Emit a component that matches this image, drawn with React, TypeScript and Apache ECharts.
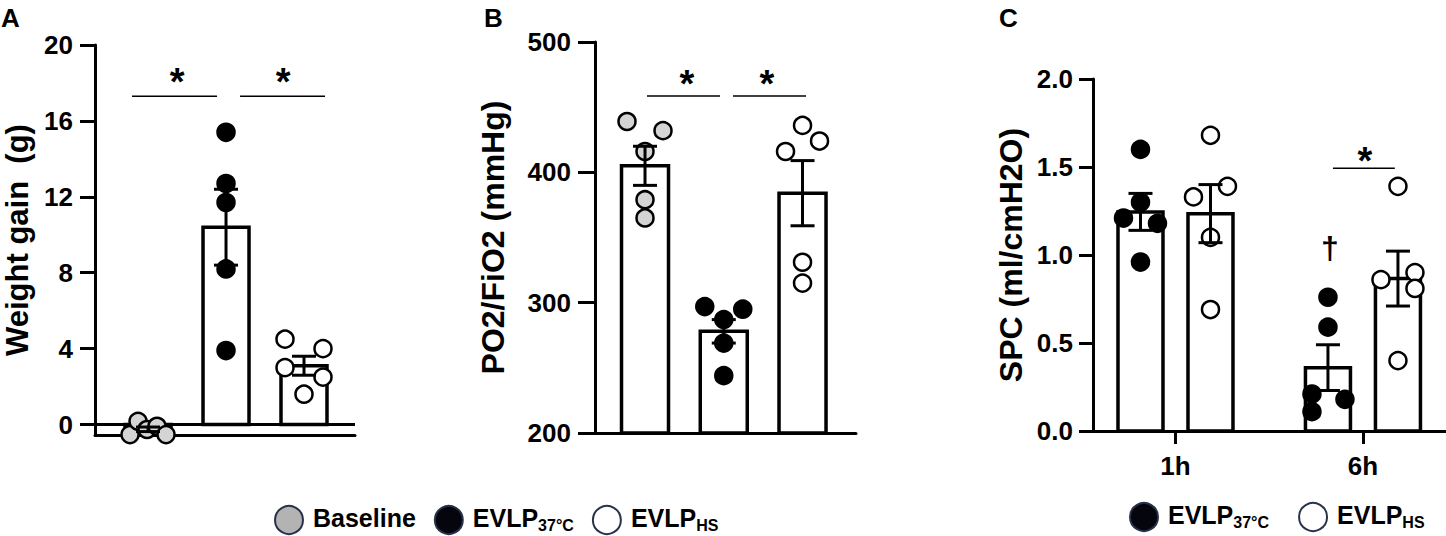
import React, { useEffect, useRef } from 'react';
import * as echarts from 'echarts';

const FONT = '"Liberation Sans", Arial, Helvetica, sans-serif';

// ---------- Panel A: Weight gain (g) ----------
const groupsA = ['Baseline', 'EVLP37°C', 'EVLPHS'];
const weightMean = [-0.25, 10.4, 3.1];
const weightSem = [0.12, 2.0, 0.5];
const weightBaseline = [-0.53, 0.17, -0.26, -0.09, -0.53];
const weight37 = [15.4, 12.7, 11.7, 8.2, 3.9];
const weightHS = [4.5, 4.0, 3.0, 2.5, 1.6];
const weightTicks = [0, 4, 8, 12, 16, 20];

// ---------- Panel B: PO2/FiO2 (mmHg) ----------
const pfMean = [405, 278, 384];
const pfSem = [15, 9, 25];
const pfBaseline = [439, 432, 416, 379, 365];
const pf37 = [297, 295, 287, 269, 244];
const pfHS = [436, 424, 416, 331, 315];

// ---------- Panel C: SPC (ml/cmH2O) ----------
const timeCats = ['1h', '6h'];
const spc37Mean = [1.245, 0.36];
const spc37Sem = [0.105, 0.13];
const spcHSMean = [1.235, 0.866];
const spcHSSem = [0.165, 0.156];
const spc37At1h = [1.6, 1.3, 1.21, 1.18, 0.96];
const spc37At6h = [0.76, 0.59, 0.21, 0.18, 0.11];
const spcHSAt1h = [1.68, 1.39, 1.33, 1.1, 0.69];
const spcHSAt6h = [1.39, 0.9, 0.86, 0.81, 0.4];

// ---------- significance annotations (data units) ----------
const sigLinesA = [[0.795, 1.885, 17.3], [2.18, 3.27, 17.3]];
const sigTextA = [[1.372, 18.05, '*'], [2.731, 18.05, '*']];
const sigLinesB = [[1.025, 1.952, 458.5], [2.117, 3.044, 458.5]];
const sigTextB = [[1.533, 467.8, '*'], [2.549, 467.8, '*']];
const sigLinesC = [[1.84, 2.17, 1.493]];
const sigTextC = [[2.011, 1.535, '*']];
const daggerC = [[1.824, 1.04, '†']];

// ---------- styles (pixel jitter of points, bar offsets) ----------
const jitA = { base: [-18, -10, -1, 9, 18], e37: [0, 0, 0, 0, 0], hs: [-19, 19, -19, 19, 0] };
const jitB = { base: [-18, 18, 0, 0, 0], e37: [-19, 19, 0, 0, 0], hs: [0, 17, -17, 0, 0] };
const jitC = {
  e37h1: [0, 0, -17, 17, 0],
  e37h6: [0, 0, -16, 17, -16],
  hsh1: [0, 17, -17, 0, 0],
  hsh6: [0, 17, -17, 17, 0],
};
const C_OFFSET = 35;
const GRAY = '#d4d4d4';

const lineStyle = { color: '#000', width: 3 };

function scatter(name: string, gi: number, items: any[], fill: string) {
  return {
    name,
    type: 'scatter',
    xAxisIndex: gi,
    yAxisIndex: gi,
    z: 3,
    silent: true,
    clip: false,
    symbol: 'circle',
    symbolSize: 17,
    itemStyle: { color: fill, borderColor: '#000', borderWidth: 2.5, opacity: 1 },
    data: items,
  };
}
function pts(x: number, vals: number[], jit: number[], dx = 0) {
  return vals.map((v, i) => ({ value: [x, v], symbolOffset: [jit[i] + dx, 0] }));
}

function bars(gi: number, xs: number[], means: number[], base: number, barW: number, dx = 0) {
  return {
    type: 'custom',
    xAxisIndex: gi,
    yAxisIndex: gi,
    z: 2,
    silent: true,
    clip: false,
    data: xs.map((x, i) => [x, means[i]]),
    renderItem: (params: any, api: any) => {
      const x = api.value(0);
      const m = api.value(1);
      const top = api.coord([x, m]);
      const bot = api.coord([x, base]);
      const cx = top[0] + dx;
      return {
        type: 'rect',
        shape: { x: cx - barW / 2, y: Math.min(top[1], bot[1]), width: barW, height: Math.abs(bot[1] - top[1]) },
        style: { fill: '#fff', stroke: '#000', lineWidth: 3.5 },
      };
    },
  };
}

function errs(gi: number, xs: number[], means: number[], sems: number[], dx = 0, capW = 24) {
  return {
    type: 'custom',
    xAxisIndex: gi,
    yAxisIndex: gi,
    z: 4,
    silent: true,
    clip: false,
    data: xs.map((x, i) => [x, means[i], sems[i]]),
    renderItem: (params: any, api: any) => {
      const x = api.value(0);
      const m = api.value(1);
      const s = api.value(2);
      const hi = api.coord([x, m + s]);
      const lo = api.coord([x, m - s]);
      const cx = hi[0] + dx;
      const st = { stroke: '#000', lineWidth: 3 };
      return {
        type: 'group',
        children: [
          { type: 'line', shape: { x1: cx, y1: hi[1], x2: cx, y2: lo[1] }, style: st },
          { type: 'line', shape: { x1: cx - capW / 2, y1: hi[1], x2: cx + capW / 2, y2: hi[1] }, style: st },
          { type: 'line', shape: { x1: cx - capW / 2, y1: lo[1], x2: cx + capW / 2, y2: lo[1] }, style: st },
        ],
      };
    },
  };
}

function zeroLine(gi: number) {
  return {
    type: 'custom',
    xAxisIndex: gi,
    yAxisIndex: gi,
    z: 2,
    silent: true,
    clip: false,
    data: [[1, 0]],
    renderItem: (params: any, api: any) => {
      const p = api.coord([api.value(0), api.value(1)]);
      const cs = params.coordSys;
      return {
        type: 'line',
        shape: { x1: cs.x, y1: p[1], x2: cs.x + cs.width, y2: p[1] },
        style: { stroke: '#000', lineWidth: 3 },
      };
    },
  };
}

function sigLines(gi: number, rows: number[][]) {
  return {
    type: 'custom',
    xAxisIndex: gi,
    yAxisIndex: gi,
    z: 5,
    silent: true,
    clip: false,
    data: rows.map((r) => [r[0], r[2], r[1]]),
    renderItem: (params: any, api: any) => {
      const a = api.coord([api.value(0), api.value(1)]);
      const b = api.coord([api.value(2), api.value(1)]);
      return {
        type: 'line',
        shape: { x1: a[0], y1: a[1], x2: b[0], y2: b[1] },
        style: { stroke: '#000', lineWidth: 1.5 },
      };
    },
  };
}

function sigText(gi: number, rows: any[][], size = 30) {
  return {
    type: 'custom',
    xAxisIndex: gi,
    yAxisIndex: gi,
    z: 5,
    silent: true,
    clip: false,
    data: rows.map((r) => [r[0], r[1]]),
    renderItem: (params: any, api: any) => {
      const c = api.coord([api.value(0), api.value(1)]);
      return {
        type: 'text',
        x: c[0],
        y: c[1],
        style: {
          text: rows[params.dataIndex][2],
          fill: '#000',
          font: `bold ${size}px ${FONT}`,
          align: 'center',
          verticalAlign: 'middle',
        },
      };
    },
  };
}

function yAxis(gi: number, min: number, max: number, name: string, nameGap: number, nameSize: number, margin: number, tickLen: number, extra: any) {
  return {
    type: 'value',
    gridIndex: gi,
    min,
    max,
    name,
    nameLocation: 'middle',
    nameRotate: 90,
    nameGap,
    nameTextStyle: { color: '#000', fontSize: nameSize, fontWeight: 'bold', fontFamily: FONT },
    axisLine: { show: true, onZero: false, lineStyle },
    axisTick: { show: true, inside: false, length: tickLen, lineStyle, ...(extra.tickValues ? { customValues: extra.tickValues } : {}) },
    axisLabel: {
      color: '#000',
      fontSize: 26,
      fontWeight: 'bold',
      fontFamily: FONT,
      margin,
      ...(extra.tickValues ? { customValues: extra.tickValues } : {}),
      ...(extra.formatter ? { formatter: extra.formatter } : {}),
    },
    ...(extra.interval ? { interval: extra.interval } : {}),
    splitLine: { show: false },
  };
}

function xAxisPlain(gi: number, min: number, max: number) {
  return {
    type: 'value',
    gridIndex: gi,
    min,
    max,
    axisLine: { show: true, onZero: false, lineStyle },
    axisTick: { show: false },
    axisLabel: { show: false },
    splitLine: { show: false },
  };
}

const legendRich = {
  m: { fontSize: 25, fontWeight: 'bold', fontFamily: FONT, color: '#000', lineHeight: 26, verticalAlign: 'bottom', padding: [0, 0, 3, 0] },
  s: { fontSize: 16, fontWeight: 'bold', fontFamily: FONT, color: '#000', lineHeight: 16, verticalAlign: 'bottom' },
};
const legendFmt = (name: string) =>
  name === 'Baseline' ? '{m|Baseline}' : name === 'EVLP37°C' ? '{m|EVLP}{s|37°C}' : '{m|EVLP}{s|HS}';
const legendItem = (name: string, color: string) => ({
  name,
  icon: 'circle',
  itemStyle: { color, borderColor: '#27324a', borderWidth: 2 },
});

const xsA = groupsA.map((_, i) => i + 1);
const xsC = timeCats.map((_, i) => i + 1);

const option: any = {
  animation: false,
  backgroundColor: '#fff',
  grid: [
    { left: 95, top: 45, width: 260, height: 390, containLabel: false, outerBoundsMode: 'none' },
    { left: 595, top: 42, width: 261, height: 391, containLabel: false, outerBoundsMode: 'none' },
    { left: 1093, top: 79, width: 353, height: 352, containLabel: false, outerBoundsMode: 'none' },
  ],
  xAxis: [
    xAxisPlain(0, 0.32, 3.654),
    xAxisPlain(1, 0.365, 3.679),
    {
      type: 'value',
      gridIndex: 2,
      min: 0.56,
      max: 2.443,
      axisLine: { show: true, onZero: false, lineStyle },
      axisTick: { show: true, inside: false, length: 13, lineStyle, customValues: xsC },
      axisLabel: {
        customValues: xsC,
        formatter: (v: number) => timeCats[Math.round(v) - 1],
        color: '#000',
        fontSize: 26,
        fontWeight: 'bold',
        fontFamily: FONT,
        margin: 22,
      },
      splitLine: { show: false },
    },
  ],
  yAxis: [
    yAxis(0, -0.55, 20, 'Weight gain  (g)', 62, 31, 22, 15, { tickValues: weightTicks }),
    yAxis(1, 200, 500, 'PO2/FiO2 (mmHg)', 86, 32, 24, 17, { interval: 100 }),
    yAxis(2, 0, 2, 'SPC (ml/cmH2O)', 66, 32, 20, 14, { interval: 0.5, formatter: (v: number) => v.toFixed(1) }),
  ],
  legend: [
    {
      left: 274,
      top: 505,
      padding: 0,
      itemWidth: 38,
      itemHeight: 28,
      itemGap: 18,
      selectedMode: false,
      data: [legendItem('Baseline', '#b3b3b3'), legendItem('EVLP37°C', '#05050d'), legendItem('EVLPHS', '#ffffff')],
      formatter: legendFmt,
      textStyle: { rich: legendRich },
    },
    {
      left: 1129,
      top: 502,
      padding: 0,
      itemWidth: 38,
      itemHeight: 28,
      itemGap: 29,
      selectedMode: false,
      data: [legendItem('EVLP37°C', '#05050d'), legendItem('EVLPHS', '#ffffff')],
      formatter: legendFmt,
      textStyle: { rich: legendRich },
    },
  ],
  graphic: [
    { type: 'text', left: 1, top: 5, style: { text: 'A', font: `bold 26px ${FONT}`, fill: '#000' } },
    { type: 'text', left: 484, top: 5, style: { text: 'B', font: `bold 26px ${FONT}`, fill: '#000' } },
    { type: 'text', left: 999, top: 5, style: { text: 'C', font: `bold 26px ${FONT}`, fill: '#000' } },
  ],
  series: [
    // Panel A
    bars(0, xsA, weightMean, 0, 46),
    zeroLine(0),
    scatter('Baseline', 0, pts(1, weightBaseline, jitA.base), GRAY),
    scatter('EVLP37°C', 0, pts(2, weight37, jitA.e37), '#000'),
    scatter('EVLPHS', 0, pts(3, weightHS, jitA.hs), '#fff'),
    errs(0, xsA, weightMean, weightSem),
    sigLines(0, sigLinesA),
    sigText(0, sigTextA, 38),
    // Panel B
    bars(1, xsA, pfMean, 200, 47),
    scatter('Baseline', 1, pts(1, pfBaseline, jitB.base), GRAY),
    scatter('EVLP37°C', 1, pts(2, pf37, jitB.e37), '#000'),
    scatter('EVLPHS', 1, pts(3, pfHS, jitB.hs), '#fff'),
    errs(1, xsA, pfMean, pfSem),
    sigLines(1, sigLinesB),
    sigText(1, sigTextB, 38),
    // Panel C
    bars(2, xsC, spc37Mean, 0, 45, -C_OFFSET),
    bars(2, xsC, spcHSMean, 0, 45, C_OFFSET),
    scatter('EVLP37°C', 2, [...pts(1, spc37At1h, jitC.e37h1, -C_OFFSET), ...pts(2, spc37At6h, jitC.e37h6, -C_OFFSET)], '#000'),
    scatter('EVLPHS', 2, [...pts(1, spcHSAt1h, jitC.hsh1, C_OFFSET), ...pts(2, spcHSAt6h, jitC.hsh6, C_OFFSET)], '#fff'),
    errs(2, xsC, spc37Mean, spc37Sem, -C_OFFSET),
    errs(2, xsC, spcHSMean, spcHSSem, C_OFFSET),
    sigLines(2, sigLinesC),
    sigText(2, sigTextC, 38),
    sigText(2, daggerC, 32),
  ],
};

export default function App() {
  const ref = useRef<HTMLDivElement>(null);
  useEffect(() => {
    if (!ref.current) return;
    const chart = echarts.init(ref.current, null, { renderer: 'svg' });
    chart.setOption(option);
    return () => chart.dispose();
  }, []);
  return (
    <div
      ref={ref}
      style={{ position: 'absolute', left: 0, top: 0, width: 1446, height: 536, background: '#fff' }}
    />
  );
}
